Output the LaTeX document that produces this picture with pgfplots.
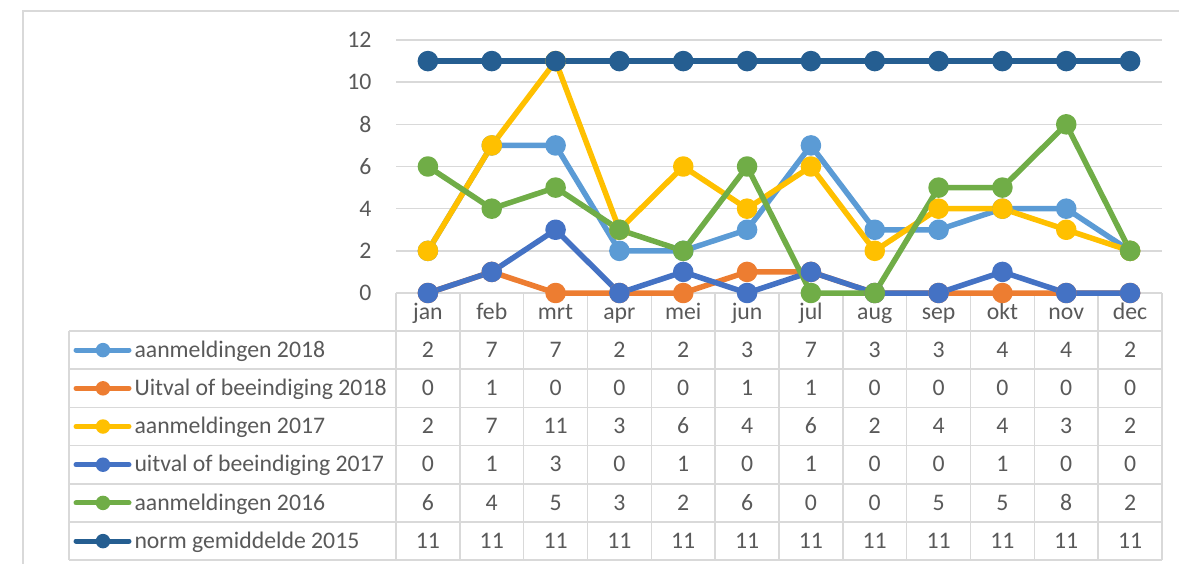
\documentclass[border=0pt]{standalone}
\usepackage{pgfplots}
\pgfplotsset{compat=1.18}
\usepackage{pgfplotstable}
\usepackage{fontspec}
\setmainfont{Carlito}
\definecolor{cA}{HTML}{5B9BD5}
\definecolor{cB}{HTML}{ED7D31}
\definecolor{cC}{HTML}{FFC000}
\definecolor{cD}{HTML}{4472C4}
\definecolor{cE}{HTML}{70AD47}
\definecolor{cF}{HTML}{255E91}
\definecolor{txt}{HTML}{595959}
\definecolor{grd}{HTML}{D9D9D9}

\pgfplotstableread{
m a18 u18 a17 u17 a16 n15
0  2 0  2 0 6 11
1  7 1  7 1 4 11
2  7 0 11 3 5 11
3  2 0  3 0 3 11
4  2 0  6 1 2 11
5  3 1  4 0 6 11
6  7 1  6 1 0 11
7  3 0  2 0 0 11
8  3 0  4 0 5 11
9  4 0  4 1 5 11
10 4 0  3 0 8 11
11 2 0  2 0 2 11
}\data

\begin{document}
\begin{tikzpicture}[font=\fontsize{9.5}{11}\selectfont]
\begin{scope}[x=0.4pt,y=0.4pt]
\useasboundingbox (0,0) rectangle (1179,563);
% outer frame
\draw[grd, line width=0.6pt] (23,-5) -- (23,552) -- (1185,552);
% table grid
\foreach \k in {0,...,6} {
  \draw[grd, line width=0.6pt] (69,{563-(331+38.2*\k)}) -- (1162,{563-(331+38.2*\k)});
}
\draw[grd, line width=0.6pt] (69,{563-331}) -- (69,{563-560.2});
\foreach \k in {0,...,12} {
  \draw[grd, line width=0.6pt] ({396+63.83*\k},{563-293}) -- ({396+63.83*\k},{563-560.2});
}
% month headers
\foreach \mn [count=\i from 0] in {jan,feb,mrt,apr,mei,jun,jul,aug,sep,okt,nov,dec} {
  \node[text=txt, inner sep=0pt, anchor=base] at ({396+63.83*(\i+0.5)},{563-319.5}) {\mn};
}
% legend column
\foreach \c/\lab [count=\r from 0] in {cA/aanmeldingen 2018,cB/Uitval of beeindiging 2018,cC/aanmeldingen 2017,cD/uitval of beeindiging 2017,cE/aanmeldingen 2016,cF/norm gemiddelde 2015} {
  \draw[\c, line width=2pt, line cap=round] (76,{563-(350.1+38.2*\r)}) -- (129,{563-(350.1+38.2*\r)});
  \fill[\c] (103,{563-(350.1+38.2*\r)}) circle (2.9pt);
  \node[text=txt, anchor=base west, inner sep=0pt] at (134,{563-(357.2+38.2*\r)}) {\lab};
}
% numbers
\foreach \col [count=\r from 0] in {a18,u18,a17,u17,a16,n15} {
  \foreach \i in {0,...,11} {
    \pgfplotstablegetelem{\i}{\col}\of\data
    \node[text=txt, inner sep=0pt, anchor=base] at ({396+63.83*(\i+0.5)},{563-(357.2+38.2*\r)}) {\pgfplotsretval};
  }
}
\end{scope}
\begin{axis}[
  at={({396*0.4pt},{270*0.4pt})}, anchor=south west,
  scale only axis, width={766*0.4pt}, height={253*0.4pt},
  xmin=-0.5, xmax=11.5, ymin=0, ymax=12,
  ytick={0,2,...,12}, xtick=\empty,
  axis line style={draw=none},
  major tick length=0pt,
  ymajorgrids, grid style={grd, line width=0.6pt},
  yticklabel style={text=txt, inner sep=0pt, xshift=-9.6pt, font=\fontsize{9.5}{11}\selectfont},
  /pgf/number format/assume math mode=true,
  clip=false,
  every axis plot/.append style={line width=2.2pt, mark=*, mark size=3pt, line join=round},
]
\addplot[cA, mark options={fill=cA}] table[x=m, y=a18] {\data};
\addplot[cB, mark options={fill=cB}] table[x=m, y=u18] {\data};
\addplot[cC, mark options={fill=cC}] table[x=m, y=a17] {\data};
\addplot[cD, mark options={fill=cD}] table[x=m, y=u17] {\data};
\addplot[cE, mark options={fill=cE}] table[x=m, y=a16] {\data};
\addplot[cF, mark options={fill=cF}] table[x=m, y=n15] {\data};
\end{axis}
\end{tikzpicture}
\end{document}
